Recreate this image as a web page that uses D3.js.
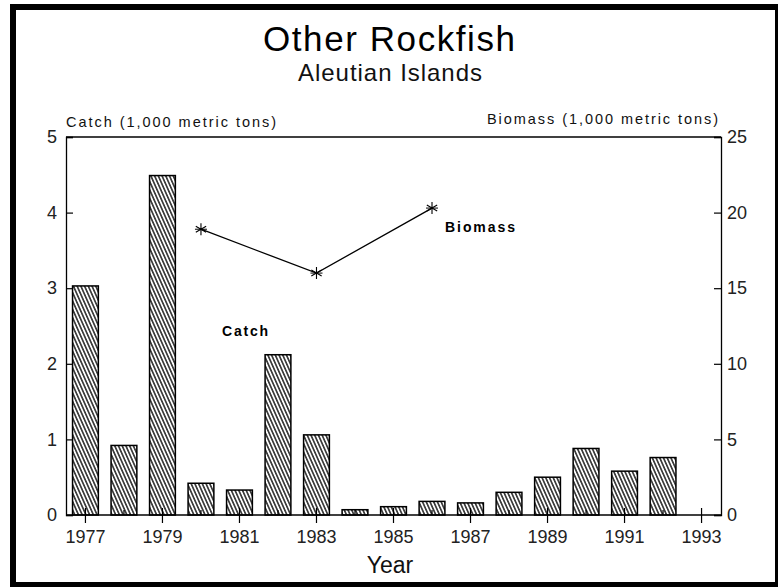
<!DOCTYPE html>
<html><head><meta charset="utf-8">
<script src="https://cdn.jsdelivr.net/npm/d3@7"></script>
<style>
html,body{margin:0;padding:0;background:#fff;}
svg{display:block;font-family:"Liberation Sans",Arial,Helvetica,sans-serif;}
</style></head>
<body>
<svg id="chart" width="778" height="587"></svg>
<script>
// ---- data ----
const years = [1977,1978,1979,1980,1981,1982,1983,1984,1985,1986,1987,1988,1989,1990,1991,1992,1993];
const catchValues = [3.03,0.92,4.49,0.42,0.33,2.12,1.06,0.07,0.11,0.18,0.16,0.30,0.50,0.88,0.58,0.76,0];
const biomassYears = [1980,1983,1986];
const biomassValues = [18.9,16.0,20.3];
const catchTicks = [0,1,2,3,4,5];
const biomassTicks = [0,5,10,15,20,25];
const yearLabels = [1977,1979,1981,1983,1985,1987,1989,1991,1993];

const svg = d3.select("#chart");
const W = 778, H = 587;
const L = 66, R = 721, T = 137, B = 515;

svg.append("rect").attr("width",W).attr("height",H).attr("fill","#fff");

// hatch pattern
const defs = svg.append("defs");
const pat = defs.append("pattern").attr("id","hatch").attr("patternUnits","userSpaceOnUse")
  .attr("width",3.4).attr("height",10).attr("patternTransform","rotate(-24)");
pat.append("rect").attr("width",3.4).attr("height",10).attr("fill","#fff");
pat.append("line").attr("x1",1.7).attr("x2",1.7).attr("y1",-1).attr("y2",11)
  .attr("stroke","#000").attr("stroke-width",1.3);

const x = d3.scaleBand().domain(years).range([L,R]).paddingInner(0.33).paddingOuter(0.17);
const yC = d3.scaleLinear().domain([0,5]).range([B,T]);
const yB = d3.scaleLinear().domain([0,25]).range([B,T]);
const cx = d => x(d) + x.bandwidth()/2;

// bars
svg.append("g").selectAll("rect").data(years.map((y,i)=>({y,v:catchValues[i]})).filter(d=>d.v>0))
  .join("rect")
  .attr("x",d=>x(d.y)).attr("width",x.bandwidth())
  .attr("y",d=>yC(d.v)).attr("height",d=>B-yC(d.v))
  .attr("fill","url(#hatch)").attr("stroke","#000").attr("stroke-width",1.5);

// top frame line
svg.append("line").attr("x1",L).attr("x2",R).attr("y1",T).attr("y2",T).attr("stroke","#000").attr("stroke-width",1.3);

// left axis
const gL = svg.append("g").attr("transform",`translate(${L},0)`)
  .call(d3.axisLeft(yC).tickValues(catchTicks).tickSize(-7).tickPadding(16).tickFormat(d3.format("d")));
// right axis
const gR = svg.append("g").attr("transform",`translate(${R},0)`)
  .call(d3.axisRight(yB).tickValues(biomassTicks).tickSize(-7).tickPadding(13).tickFormat(d3.format("d")));
[gL,gR].forEach(g=>{
  g.select(".domain").attr("stroke","#000").attr("stroke-width",1.3);
  g.selectAll(".tick line").attr("stroke","#000").attr("stroke-width",1.2);
  g.selectAll(".tick text").attr("font-size",18).attr("fill","#222").attr("font-family","Liberation Sans, Arial, sans-serif");
});
gR.selectAll(".tick text").attr("x",6);
gL.selectAll(".tick text").attr("x",-9);

// bottom axis
const gX = svg.append("g").attr("transform",`translate(0,${B})`);
gX.append("line").attr("x1",L).attr("x2",R).attr("stroke","#000").attr("stroke-width",1.4);
gX.selectAll("line.tk").data(years).join("line").attr("class","tk")
  .attr("x1",d=>cx(d)).attr("x2",d=>cx(d))
  .attr("y1",d=>yearLabels.includes(d)? -7 : -5).attr("y2",d=>yearLabels.includes(d)? 8 : 0)
  .attr("stroke","#000").attr("stroke-width",1.2);
gX.selectAll("text").data(yearLabels).join("text")
  .attr("x",d=>cx(d)).attr("y",28).attr("text-anchor","middle")
  .attr("font-size",18).attr("fill","#222").text(d=>d);

// biomass line
const line = d3.line().x(d=>cx(d.y)).y(d=>yB(d.v));
const bdata = biomassYears.map((y,i)=>({y,v:biomassValues[i]}));
svg.append("path").datum(bdata).attr("d",line).attr("fill","none").attr("stroke","#000").attr("stroke-width",1.3);
svg.append("g").selectAll("path").data(bdata).join("path")
  .attr("transform",d=>`translate(${cx(d.y)},${yB(d.v)})`)
  .attr("d",d3.symbol(d3.symbolAsterisk,100)).attr("fill","none").attr("stroke","#000").attr("stroke-width",1.1);
svg.append("g").selectAll("path").data(bdata).join("path")
  .attr("transform",d=>`translate(${cx(d.y)},${yB(d.v)})`)
  .attr("d","M-6,0L6,0").attr("fill","none").attr("stroke","#000").attr("stroke-width",1.0);

// labels
svg.append("text").attr("x",389).attr("y",51).attr("text-anchor","middle").attr("font-size",35).attr("fill","#000")
  .attr("textLength",252).attr("lengthAdjust","spacing").text("Other Rockfish");
svg.append("text").attr("x",390).attr("y",81).attr("text-anchor","middle").attr("font-size",24).attr("fill","#111")
  .attr("textLength",184).attr("lengthAdjust","spacing").text("Aleutian Islands");
svg.append("text").attr("x",66).attr("y",127).attr("font-size",14.5).attr("fill","#111")
  .attr("textLength",210).attr("lengthAdjust","spacing").text("Catch (1,000 metric tons)");
svg.append("text").attr("x",487).attr("y",124).attr("font-size",14.5).attr("fill","#111")
  .attr("textLength",231).attr("lengthAdjust","spacing").text("Biomass (1,000 metric tons)");
svg.append("text").attr("x",390).attr("y",573).attr("text-anchor","middle").attr("font-size",23).attr("fill","#111").text("Year");
svg.append("text").attr("x",222).attr("y",336).attr("font-size",14).attr("font-weight","bold").attr("fill","#000")
  .attr("textLength",46).attr("lengthAdjust","spacing").text("Catch");
svg.append("text").attr("x",445).attr("y",232).attr("font-size",14).attr("font-weight","bold").attr("fill","#000")
  .attr("textLength",70).attr("lengthAdjust","spacing").text("Biomass");

// outer border
svg.append("rect").attr("x",10).attr("y",4).attr("width",6).attr("height",583).attr("fill","#000");
svg.append("rect").attr("x",10).attr("y",4).attr("width",768).attr("height",6).attr("fill","#000");
svg.append("rect").attr("x",775).attr("y",4).attr("width",3).attr("height",583).attr("fill","#000");
svg.append("rect").attr("x",10).attr("y",582).attr("width",768).attr("height",5).attr("fill","#000");
</script>
</body></html>
